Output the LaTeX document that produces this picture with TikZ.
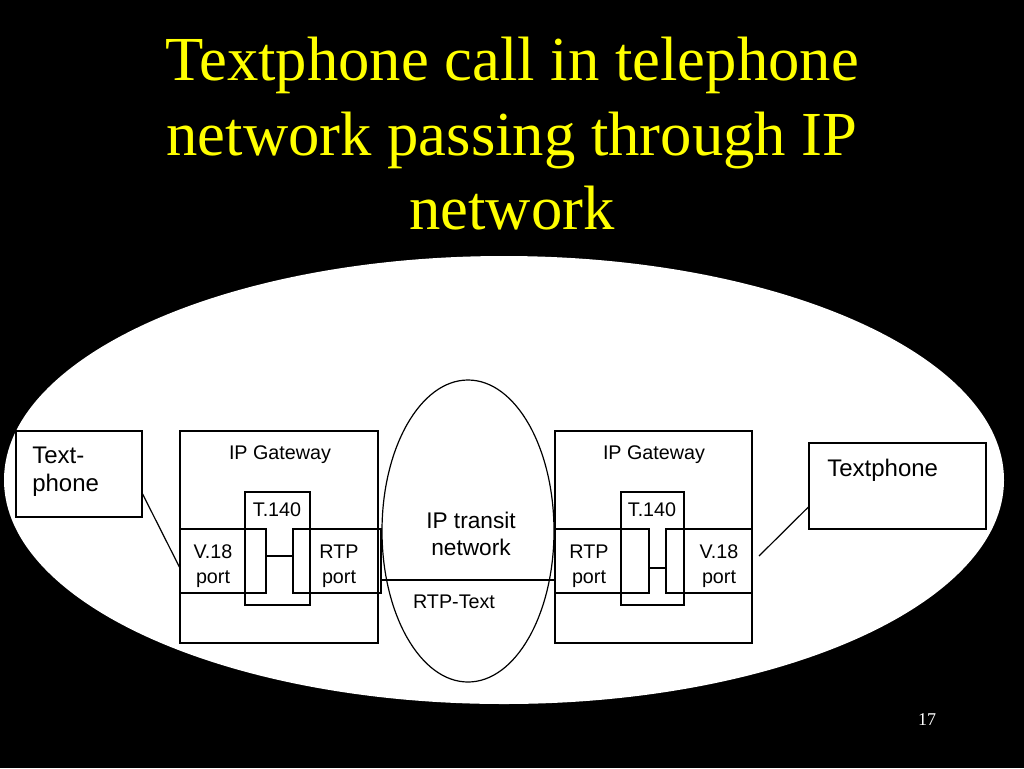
\documentclass[tikz,border=0pt]{standalone}
\usepackage{fontspec}
\setmainfont{Liberation Serif}
\newfontfamily\arialfont{Liberation Sans}
\usetikzlibrary{fit,calc,shapes.geometric}

\definecolor{titleyellow}{RGB}{255,255,0}

\tikzset{
  box/.style={draw, line width=0.9pt, inner sep=0pt},
  wire/.style={line width=0.9pt},
  lbl/.style={font=\arialfont\fontsize{14.8}{18.75}\selectfont, inner sep=0pt, align=center},
  biglbl/.style={font=\arialfont\fontsize{18}{21}\selectfont, inner sep=0pt, align=left},
  titletext/.style={font=\fontsize{47}{55}\selectfont, text=titleyellow, inner sep=0pt}
}

\begin{document}
\begin{tikzpicture}[x=0.75pt,y=-0.75pt]

  % --- slide background ---
  \fill[black] (0,0) rectangle (1024,768);
  \useasboundingbox (0,0) rectangle (1024,768);

  % --- title, three lines ---
  \foreach \txt/\yb in {Textphone call in telephone/80,
                        network passing through IP/155,
                        network/229}
    \node[titletext, anchor=base] (title-\yb) at (512,\yb) {\txt};

  % --- white oval behind the diagram ---
  \fill[white] (504,480) ellipse (500 and 224);

  % --- textphones ---
  \node[box, fit={(16,431) (142,517)}] (tpL) {};
  \node[biglbl, anchor=west] (tpLtxt) at (32,472) {Text-\\phone};
  \node[box, fit={(809,443) (986,529)}] (tpR) {};
  \node[biglbl, anchor=west] (tpRtxt) at (827,470) {Textphone};

  % --- left IP gateway ---
  \node[box, fit={(180,431) (378,643)}] (gwL) {};
  \node[box, fit={(245,492) (310,605)}] (t140L) {};
  \node[box, fit={(180,529) (266,593)}] (v18L) {};
  \node[box, fit={(293,529) (381,593)}] (rtpL) {};
  \node[lbl] (gwLtxt) at (280,455) {IP Gateway};
  \node[lbl] (t140Ltxt) at (277,510) {T.140};
  \node[lbl] (v18Ltxt) at (213,566) {V.18\\port};
  \node[lbl] (rtpLtxt) at (339,566) {RTP\\port};

  % --- right IP gateway ---
  \node[box, fit={(555,431) (752,643)}] (gwR) {};
  \node[box, fit={(621,492) (684,605)}] (t140R) {};
  \node[box, fit={(555,529) (649,593)}] (rtpR) {};
  \node[box, fit={(666,529) (752,593)}] (v18R) {};
  \node[lbl] (gwRtxt) at (654,455) {IP Gateway};
  \node[lbl] (t140Rtxt) at (652,510) {T.140};
  \node[lbl] (rtpRtxt) at (589,566) {RTP\\port};
  \node[lbl] (v18Rtxt) at (719,566) {V.18\\port};

  % --- IP transit network ---
  \node[draw, ellipse, line width=0.9pt, minimum width=129pt, minimum height=226.5pt,
        inner sep=0pt] (ipnet) at (468,531) {};
  \node[lbl, font=\arialfont\fontsize{17}{20.25}\selectfont] (ipnettxt) at (471,534)
    {IP transit\\network};
  \node[lbl] (rtptxt) at (454,602) {RTP-Text};

  % --- connectors ---
  \draw[wire] ([yshift=-15pt]tpL.east) -- ([yshift=-4.5pt]v18L.west);
  \draw[wire] ([yshift=3.75pt]v18L.east) -- ([yshift=3.75pt]rtpL.west);
  \draw[wire] ([yshift=-14.25pt]rtpL.east) -- ([yshift=-14.25pt]rtpR.west);
  \draw[wire] ([yshift=-5.25pt]rtpR.east) -- ([yshift=-5.25pt]v18R.west);
  \coordinate (tpRend) at (759,556);
  \draw[wire] (tpRend) -- ([yshift=-15.75pt]tpR.west);

  % --- page number ---
  \node[text=white, font=\fontsize{13.5}{16}\selectfont, anchor=base] (pageno) at (927,725) {17};

\end{tikzpicture}
\end{document}
